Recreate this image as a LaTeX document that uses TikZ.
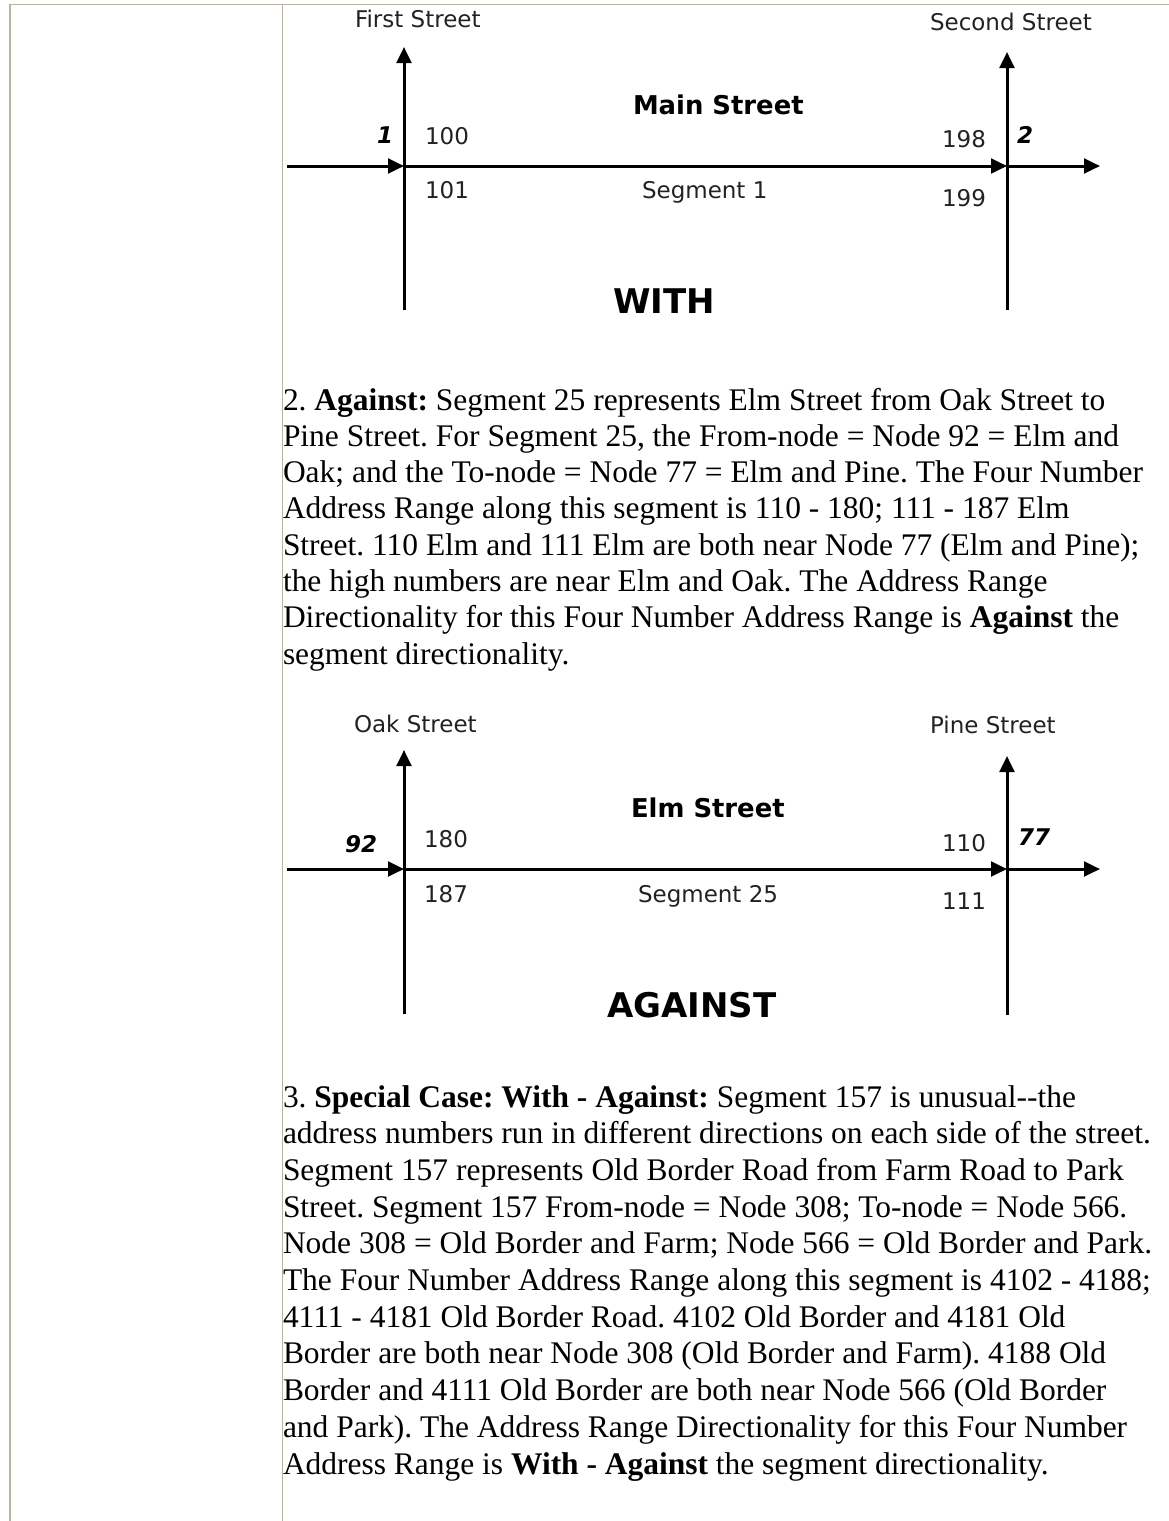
\documentclass[tikz,border=0pt]{standalone}
\usepackage{fontspec}
\setmainfont{Liberation Serif}
\newfontfamily\dvfont{DejaVu Sans}
\usetikzlibrary{arrows.meta}
\definecolor{bordc}{RGB}{184,180,160}
\definecolor{lbl}{RGB}{34,34,34}
\frenchspacing
\begin{document}
\begin{tikzpicture}[x=0.75pt,y=-0.75pt,
  body/.style={anchor=base west,inner sep=0pt,outer sep=0pt,font=\frenchspacing\fontsize{23.6pt}{27pt}\selectfont},
  lab/.style={anchor=base west,inner sep=0pt,outer sep=0pt,text=lbl,font=\dvfont\fontsize{17.25pt}{20pt}\selectfont},
  street/.style={anchor=base west,inner sep=0pt,outer sep=0pt,text=black,font=\dvfont\bfseries\fontsize{19.4pt}{22pt}\selectfont},
  nodenum/.style={anchor=base west,inner sep=0pt,outer sep=0pt,text=black,font=\dvfont\bfseries\itshape\fontsize{17.25pt}{20pt}\selectfont},
  title/.style={anchor=base west,inner sep=0pt,outer sep=0pt,text=black,font=\dvfont\bfseries\fontsize{25.5pt}{28pt}\selectfont},
  road/.style={line width=2.25pt,draw=black,-{Triangle[length=12pt,width=11pt]}},
  border/.style={draw=bordc,line width=1.3pt}
]
\useasboundingbox (0,0) rectangle (1169,1521);
\fill[white] (0,0) rectangle (1169,1521);
% table borders
\coordinate (tl) at (9,4.5);
\coordinate (tr) at (1169,4.5);
\coordinate (lb) at (10,1521);
\coordinate (lt) at (10,4.5);
\coordinate (mt) at (282.5,4.5);
\coordinate (mb) at (282.5,1521);
\draw[border] (tl) -- (tr);
\draw[border] (lt) -- (lb);
\draw[border] (mt) -- (mb);

% ---------- diagram 1 (WITH) ----------
\coordinate (h1s) at (287,166);
\coordinate (x1a) at (404,166);
\coordinate (x1b) at (1007,166);
\coordinate (h1e) at (1100,166);
\coordinate (v1at) at (404,47);
\coordinate (v1ab) at (404,310);
\coordinate (v1bt) at (1007,52);
\coordinate (v1bb) at (1007,310);
\draw[road] (v1ab) -- (v1at);
\draw[road] (v1bb) -- (v1bt);
\draw[road] (h1s) -- (x1a);
\draw[road] (x1a) -- (x1b);
\draw[road] (x1b) -- (h1e);
\node[lab] (first) at (355,27) {First Street};
\node[lab] (second) at (930,30) {Second Street};
\node[street] (main) at (633,114) {Main Street};
\node[nodenum] (n1) at (377,143) {1};
\node[lab] (a100) at (425,144) {100};
\node[lab] (a101) at (425,198) {101};
\node[lab] (seg1) at (642,198) {Segment 1};
\node[lab] (a198) at (942,147) {198};
\node[lab] (a199) at (942,206) {199};
\node[nodenum] (n2) at (1017,143) {2};
\node[title] (with) at (613,313) {WITH};

% ---------- paragraph 2 ----------
\node[body] (p2a) at (283,410) {2. \textbf{Against:} Segment 25 represents Elm Street from Oak Street to};
\node[body] (p2b) at (283,446.3) {Pine Street. For Segment 25, the From-node = Node 92 = Elm and};
\node[body] (p2c) at (283,482.6) {Oak; and the To-node = Node 77 = Elm and Pine. The Four Number};
\node[body] (p2d) at (283,518.9) {Address Range along this segment is 110 - 180; 111 - 187 Elm};
\node[body] (p2e) at (283,555.2) {Street. 110 Elm and 111 Elm are both near Node 77 (Elm and Pine);};
\node[body] (p2f) at (283,591.5) {the high numbers are near Elm and Oak. The Address Range};
\node[body] (p2g) at (283,627.8) {Directionality for this Four Number Address Range is \textbf{Against} the};
\node[body] (p2h) at (283,664.1) {segment directionality.};

% ---------- diagram 2 (AGAINST) ----------
\coordinate (h2s) at (287,869);
\coordinate (x2a) at (404,869);
\coordinate (x2b) at (1007,869);
\coordinate (h2e) at (1100,869);
\coordinate (v2at) at (404,750);
\coordinate (v2ab) at (404,1014);
\coordinate (v2bt) at (1007,756);
\coordinate (v2bb) at (1007,1015);
\draw[road] (v2ab) -- (v2at);
\draw[road] (v2bb) -- (v2bt);
\draw[road] (h2s) -- (x2a);
\draw[road] (x2a) -- (x2b);
\draw[road] (x2b) -- (h2e);
\node[lab] (oak) at (354,732) {Oak Street};
\node[lab] (pine) at (930,733) {Pine Street};
\node[street] (elm) at (631,817) {Elm Street};
\node[nodenum] (n92) at (345,852) {92};
\node[lab] (a180) at (424,847) {180};
\node[lab] (a187) at (424,902) {187};
\node[lab] (seg25) at (638,902) {Segment 25};
\node[lab] (a110) at (942,851) {110};
\node[lab] (a111) at (942,909) {111};
\node[nodenum] (n77) at (1018,845) {77};
\node[title] (against) at (607,1017) {AGAINST};

% ---------- paragraph 3 ----------
\node[body] (p3a) at (283,1107) {3. \textbf{Special Case: With - Against:} Segment 157 is unusual-{}-the};
\node[body] (p3b) at (283,1143.7) {address numbers run in different directions on each side of the street.};
\node[body] (p3c) at (283,1180.4) {Segment 157 represents Old Border Road from Farm Road to Park};
\node[body] (p3d) at (283,1217.1) {Street. Segment 157 From-node = Node 308; To-node = Node 566.};
\node[body] (p3e) at (283,1253.8) {Node 308 = Old Border and Farm; Node 566 = Old Border and Park.};
\node[body] (p3f) at (283,1290.5) {The Four Number Address Range along this segment is 4102 - 4188;};
\node[body] (p3g) at (283,1327.2) {4111 - 4181 Old Border Road. 4102 Old Border and 4181 Old};
\node[body] (p3h) at (283,1363.9) {Border are both near Node 308 (Old Border and Farm). 4188 Old};
\node[body] (p3i) at (283,1400.6) {Border and 4111 Old Border are both near Node 566 (Old Border};
\node[body] (p3j) at (283,1437.3) {and Park). The Address Range Directionality for this Four Number};
\node[body] (p3k) at (283,1474) {Address Range is \textbf{With - Against} the segment directionality.};
\end{tikzpicture}
\end{document}
